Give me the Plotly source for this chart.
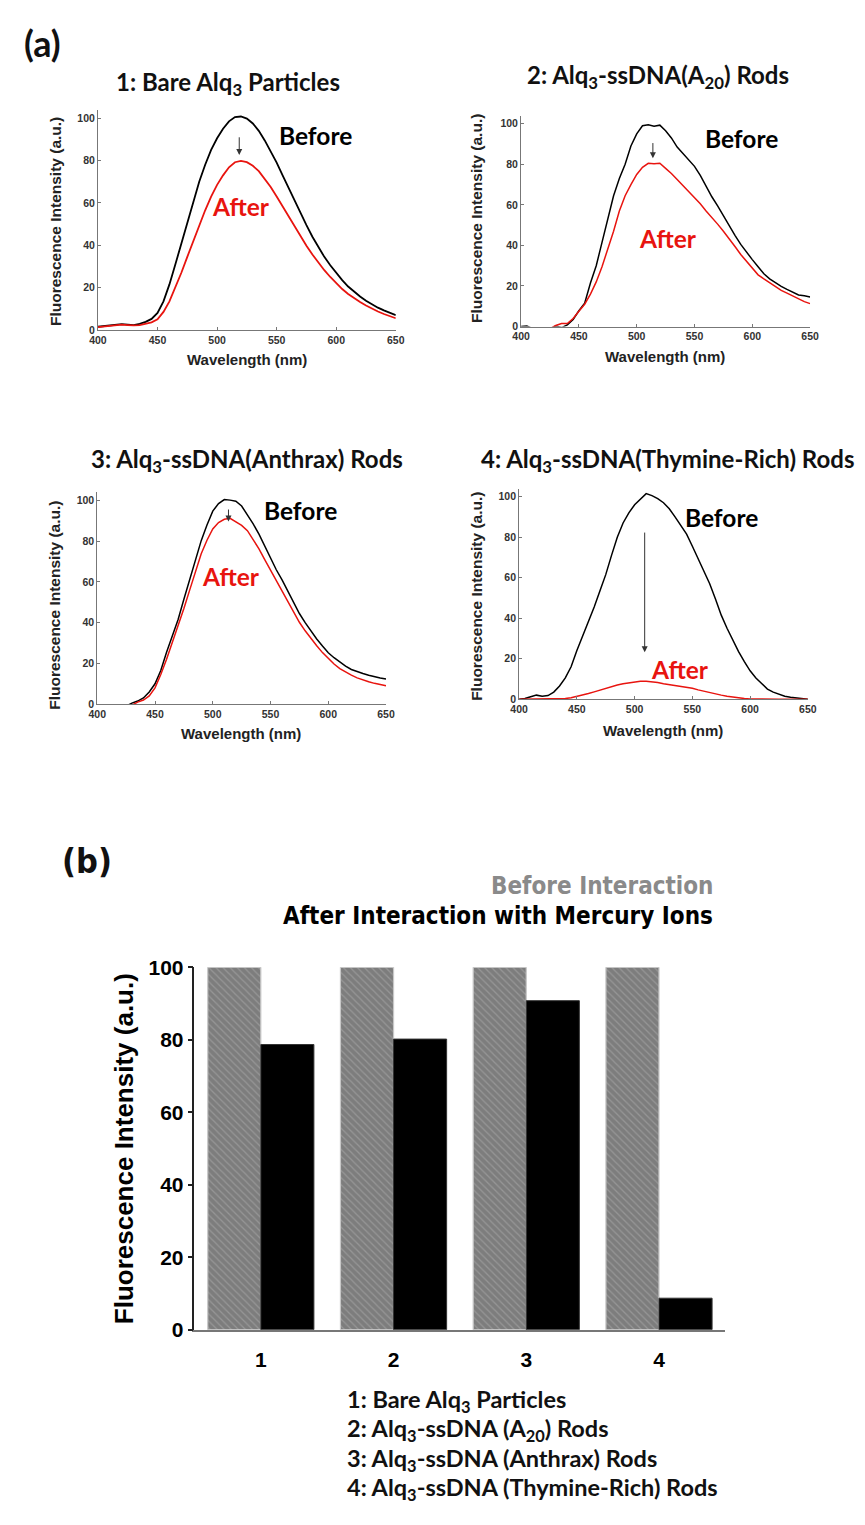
import plotly.graph_objects as go

# page is 865x1525; the browser body keeps its default 8px margin,
# so the figure is 849x1509 and reference pixels are shifted by 8.
PAGE_W, PAGE_H = 865, 1525
OFF = 8
W, H = PAGE_W - 2 * OFF, PAGE_H - 2 * OFF

# ---------------- DATA ----------------
wavelength = [400, 405, 410, 415, 420, 425, 430, 435, 440, 445,
              450, 455, 460, 465, 470, 475, 480, 485, 490, 495,
              500, 505, 510, 515, 520, 525, 530, 535, 540, 545,
              550, 555, 560, 565, 570, 575, 580, 585, 590, 595,
              600, 605, 610, 615, 620, 625, 630, 635, 640, 645, 650]

p1_before = [1.5, 1.8, 2.2, 2.6, 2.7, 2.5, 2.3, 2.8, 3.8, 5.2,
             8.0, 13.5, 21.5, 31.0, 41.0, 51.0, 61.0, 70.0, 78.0, 85.0,
             90.5, 95.0, 98.5, 100.5, 100.8, 99.8, 97.5, 94.0, 89.5, 84.5,
             79.0, 73.0, 67.0, 61.0, 55.0, 49.5, 44.0, 39.0, 34.5, 30.5,
             26.8, 23.5, 20.5, 18.0, 15.8, 13.8, 12.0, 10.5, 9.2, 8.0, 7.0]
p1_after = [1.3, 1.6, 2.0, 2.4, 2.5, 2.3, 2.1, 2.3, 2.8, 3.6,
            5.0, 8.5, 13.5, 20.0, 27.0, 34.5, 42.0, 49.5, 56.5, 63.0,
            68.5, 73.0, 76.8, 79.2, 79.8, 79.2, 77.5, 75.0, 71.5, 67.5,
            63.0, 58.3, 53.5, 48.8, 44.2, 39.8, 35.6, 31.8, 28.2, 25.0,
            22.0, 19.3, 17.0, 15.0, 13.2, 11.5, 10.0, 8.7, 7.5, 6.4, 5.5]

p2_before = [0.0, 0.3, -1.0, -2.0, -1.5, -1.0, 0.2, -0.5, 0.8, 3.5,
             7.8, 11.5, 21.5, 30.0, 41.5, 53.0, 64.5, 73.0, 80.0, 89.0,
             95.0, 99.0, 99.5, 98.8, 99.3, 96.5, 93.0, 88.5, 85.5, 82.0,
             79.0, 74.5, 69.0, 64.0, 59.5, 54.5, 50.0, 45.0, 40.5, 36.5,
             33.0, 29.5, 26.0, 23.5, 21.5, 19.8, 18.3, 17.0, 15.6, 15.2, 14.6]
p2_after = [-1.0, -1.0, -2.0, -2.0, -1.5, -1.0, 0.5, 1.5, 1.5, 4.0,
            7.5, 11.0, 16.0, 22.0, 29.5, 38.0, 47.0, 57.0, 64.5, 70.0,
            75.0, 78.5, 80.5, 80.3, 80.5, 78.0, 75.5, 72.5, 69.5, 67.0,
            64.0, 60.5, 57.0, 54.0, 50.5, 47.0, 43.5, 39.5, 35.5, 32.0,
            28.5, 25.5, 23.5, 21.5, 19.5, 17.8, 16.5, 15.0, 13.5, 12.3, 11.3]

p3_before = [-1.0, -1.0, -1.5, -1.0, -1.5, -1.0, 0.5, 1.5, 3.0, 6.0,
             10.0, 16.5, 25.5, 33.5, 41.6, 51.5, 61.0, 71.0, 80.3, 88.0,
             94.8, 98.5, 100.5, 100.2, 99.7, 97.3, 93.2, 88.5, 83.5, 77.5,
             71.5, 66.0, 61.0, 55.5, 49.7, 44.5, 40.0, 35.8, 32.0, 28.5,
             25.2, 22.8, 20.6, 18.7, 17.0, 15.9, 15.0, 14.2, 13.4, 12.8, 12.3]
p3_after = [-1.0, -1.5, -1.0, -1.5, -1.0, -1.0, -0.5, 1.0, 2.0, 4.0,
            8.0, 14.5, 22.0, 30.0, 38.4, 47.0, 56.0, 65.0, 73.9, 80.5,
            86.0, 89.2, 90.8, 91.3, 89.7, 87.8, 85.2, 81.0, 76.3, 71.0,
            65.8, 60.5, 55.3, 50.0, 44.8, 40.2, 36.0, 32.2, 28.7, 25.3,
            22.3, 19.7, 17.4, 15.7, 14.2, 12.9, 11.8, 11.0, 10.2, 9.6, 9.0]

p4_before = [0.0, 0.3, 1.2, 2.0, 1.5, 1.8, 3.5, 6.5, 10.5, 16.0,
             24.0, 31.0, 38.5, 45.5, 53.5, 61.5, 71.0, 80.0, 87.0, 92.0,
             96.0, 99.0, 101.5, 100.5, 99.0, 97.0, 94.0, 90.0, 86.0, 81.5,
             75.5, 69.5, 63.5, 57.0, 49.5, 41.5, 35.0, 29.0, 23.5, 18.5,
             14.0, 10.5, 7.5, 5.0, 3.5, 2.5, 1.5, 1.0, 0.6, 0.3, 0.0]
p4_after = [0.0, 0.0, 0.0, 0.0, 0.0, 0.0, 0.0, 0.1, 0.3, 0.7,
            1.3, 2.0, 2.8, 3.6, 4.5, 5.4, 6.2, 7.0, 7.6, 8.1,
            8.5, 8.8, 8.8, 8.6, 8.2, 7.6, 7.2, 6.9, 6.5, 6.1,
            5.4, 4.6, 3.9, 3.2, 2.6, 2.0, 1.5, 1.0, 0.6, 0.3,
            0.15, 0.05, 0.0, 0.0, 0.0, 0.0, 0.0, 0.0, 0.0, 0.0, 0.0]

panel_titles = ["1: Bare Alq<sub>3</sub> Particles",
                "2: Alq<sub>3</sub>-ssDNA(A<sub>20</sub>) Rods",
                "3: Alq<sub>3</sub>-ssDNA(Anthrax) Rods",
                "4: Alq<sub>3</sub>-ssDNA(Thymine-Rich) Rods"]

bar_categories = ["1", "2", "3", "4"]
bar_before = [100, 100, 100, 100]
bar_after = [78.7, 80.2, 90.8, 8.7]
bar_series_names = ["Before Interaction", "After Interaction with Mercury Ions"]
bar_key = ["1: Bare Alq<sub>3</sub> Particles",
           "2: Alq<sub>3</sub>-ssDNA (A<sub>20</sub>) Rods",
           "3: Alq<sub>3</sub>-ssDNA (Anthrax) Rods",
           "4: Alq<sub>3</sub>-ssDNA (Thymine-Rich) Rods"]

x_ticks = [400, 450, 500, 550, 600, 650]
y_ticks = [0, 20, 40, 60, 80, 100]
bar_y_ticks = [0, 20, 40, 60, 80, 100]

# ---------------- LAYOUT HELPERS ----------------
def px(x):
    return (x - OFF) / W

def py(y):
    return 1 - (y - OFF) / H

ARIAL = "Liberation Sans, Arial, sans-serif"
NARROW = "Liberation Sans Narrow, Arial Narrow, DejaVu Sans Condensed, sans-serif"
CAL = "Lato, Carlito, Calibri, sans-serif"

# panel geometry in page pixels: (x_left, x_right, y_bottom(0), y_top(range top))
panels = [
    (90.7, 395.0, 322.7, 99.1),
    (523.0, 818.3, 319.3, 105.1),
    (90.0, 385.0, 702.7, 487.7),
    (521.0, 816.0, 697.7, 483.8),
]
title_pos = [(223.5, 72), (662.5, 65), (242.5, 455), (672.5, 455)]
ytitle_pos = [(48, 213), (478, 210), (46.7, 602), (476.7, 593)]
xtitle_pos = [(243, 353), (670, 350), (236.7, 733), (668, 729)]
before_lbl = [(582.7, 92.0), (590.8, 92.7), (575.7, 95.2), (575.2, 89.6)]
after_lbl = [(520.2, 58.4), (527.3, 43.3), (515.8, 62.6), (539.0, 14.8)]
arrows = [(518.6, 95.7, 82.6), (514.0, 95.4, 83.0), (513.6, 100.5, 89.7), (508.7, 87.2, 23.2)]

series = [(p1_before, p1_after), (p2_before, p2_after),
          (p3_before, p3_after), (p4_before, p4_after)]
line_w = [1.8, 1.5, 1.5, 1.5]

fig = go.Figure()
layout = dict(
    width=W, height=H, margin=dict(l=0, r=0, t=0, b=0),
    paper_bgcolor="white", plot_bgcolor="white", showlegend=False,
    barmode="group", bargap=0.2, bargroupgap=0.0,
)
annotations = []

for i, (xl, xr, yb, yt) in enumerate(panels):
    n = i + 1
    xa = "x" if n == 1 else f"x{n}"
    ya = "y" if n == 1 else f"y{n}"
    b, a = series[i]
    fig.add_trace(go.Scatter(x=wavelength, y=b, mode="lines", xaxis=xa, yaxis=ya,
                             line=dict(color="black", width=line_w[i]), name="Before"))
    fig.add_trace(go.Scatter(x=wavelength, y=a, mode="lines", xaxis=xa, yaxis=ya,
                             line=dict(color="#e8140f", width=line_w[i]), name="After"))
    ymax = 104.0
    tickfont = dict(family=ARIAL, size=10.5, color="#333", weight="bold")
    layout[f"xaxis{'' if n == 1 else n}"] = dict(
        domain=[px(xl), px(xr)], anchor=ya, range=[400, 650],
        tickvals=x_ticks, ticks="inside", ticklen=3, tickcolor="#777",
        showline=True, linecolor="#777", linewidth=1, showgrid=False, zeroline=False,
        tickfont=tickfont,
    )
    layout[f"yaxis{'' if n == 1 else n}"] = dict(
        domain=[py(yb), py(yt)], anchor=xa, range=[0, ymax],
        tickvals=y_ticks, ticks="inside", ticklen=3, tickcolor="#777",
        showline=True, linecolor="#777", linewidth=1, showgrid=False, zeroline=False,
        tickfont=tickfont,
    )
    tx, ty = title_pos[i]
    annotations.append(dict(text=panel_titles[i], x=px(tx), y=py(ty), xref="paper", yref="paper",
                            showarrow=False, xanchor="center", yanchor="middle",
                            font=dict(family=CAL, size=24, color="#111", weight="bold")))
    yx, yy = ytitle_pos[i]
    annotations.append(dict(text="Fluorescence Intensity (a.u.)", x=px(yx), y=py(yy),
                            xref="paper", yref="paper", showarrow=False, textangle=-90,
                            xanchor="center", yanchor="middle",
                            font=dict(family=ARIAL, size=15.5, color="#222", weight="bold")))
    xx, xy = xtitle_pos[i]
    annotations.append(dict(text="Wavelength (nm)", x=px(xx), y=py(xy),
                            xref="paper", yref="paper", showarrow=False,
                            xanchor="center", yanchor="middle",
                            font=dict(family=ARIAL, size=15, color="#222", weight="bold")))
    bx, by = before_lbl[i]
    annotations.append(dict(text="Before", x=bx, y=by, xref=xa, yref=ya, showarrow=False,
                            xanchor="center", yanchor="middle",
                            font=dict(family=CAL, size=24.5, color="black", weight="bold")))
    ax_, ay_ = after_lbl[i]
    annotations.append(dict(text="After", x=ax_, y=ay_, xref=xa, yref=ya, showarrow=False,
                            xanchor="center", yanchor="middle",
                            font=dict(family=CAL, size=24.5, color="#e8140f", weight="bold")))
    arx, ary0, ary1 = arrows[i]
    annotations.append(dict(text=" ", x=arx, y=ary1, ax=arx, ay=ary0, xref=xa, yref=ya,
                            axref=xa, ayref=ya, showarrow=True, arrowhead=2, arrowsize=1.2,
                            arrowwidth=1, arrowcolor="#333", standoff=0, startstandoff=0))

# ---------------- BAR CHART ----------------
fig.add_trace(go.Bar(x=bar_categories, y=bar_before, name=bar_series_names[0],
                     xaxis="x5", yaxis="y5",
                     marker=dict(color="#7d7d7d",
                                 line=dict(color="#c8c8c8", width=1.2),
                                 pattern=dict(shape="\\", fgcolor="#b0b0b0", bgcolor="#7d7d7d",
                                              size=5, solidity=0.25))))
fig.add_trace(go.Bar(x=bar_categories, y=bar_after, name=bar_series_names[1],
                     xaxis="x5", yaxis="y5",
                     marker=dict(color="black", line=dict(color="#333", width=1))))

layout["xaxis5"] = dict(domain=[px(189.3), px(731.7)], anchor="y5", type="category",
                        range=[-0.5, 3.5], showline=True, linecolor="#777", linewidth=2,
                        ticks="", showgrid=False, zeroline=False, ticklabelstandoff=10,
                        tickfont=dict(family=ARIAL, size=21, color="black", weight="bold"))
layout["yaxis5"] = dict(domain=[py(1338), py(970)], anchor="x5", range=[0, 100],
                        tickvals=bar_y_ticks, showline=True, linecolor="#222", linewidth=1.5,
                        ticks="outside", ticklen=5, tickcolor="#222", tickwidth=1.5,
                        showgrid=False, zeroline=False,
                        tickfont=dict(family=ARIAL, size=21, color="black", weight="bold"))

annotations.append(dict(text="Fluorescence Intensity (a.u.)", x=px(117), y=py(1154),
                        xref="paper", yref="paper", showarrow=False, textangle=-90,
                        xanchor="center", yanchor="middle",
                        font=dict(family=ARIAL, size=26, color="black", weight="bold")))
annotations.append(dict(text=bar_series_names[0], x=px(721), y=py(887), xref="paper", yref="paper",
                        showarrow=False, xanchor="right", yanchor="middle",
                        font=dict(family=NARROW, size=24, color="#8a8a8a", weight="bold")))
annotations.append(dict(text=bar_series_names[1], x=px(721), y=py(918), xref="paper", yref="paper",
                        showarrow=False, xanchor="right", yanchor="middle",
                        font=dict(family=NARROW, size=24, color="black", weight="bold")))
for k, line in enumerate(bar_key):
    annotations.append(dict(text=line, x=px(343), y=py(1410 + 30 * k), xref="paper", yref="paper",
                            showarrow=False, xanchor="left", yanchor="middle",
                            font=dict(family=CAL, size=23.5, color="#111", weight="bold")))

# panel letters
annotations.append(dict(text="(a)", x=px(34), y=py(31), xref="paper", yref="paper",
                        showarrow=False, xanchor="center", yanchor="middle",
                        font=dict(family=CAL, size=36, color="#111", weight="bold")))
annotations.append(dict(text="(b)", x=px(80), y=py(862), xref="paper", yref="paper",
                        showarrow=False, xanchor="center", yanchor="middle",
                        font=dict(family=NARROW, size=34, color="#111", weight="bold")))

layout["annotations"] = annotations
fig.update_layout(**layout)
fig.write_html("out.html", config={"displayModeBar": False})
